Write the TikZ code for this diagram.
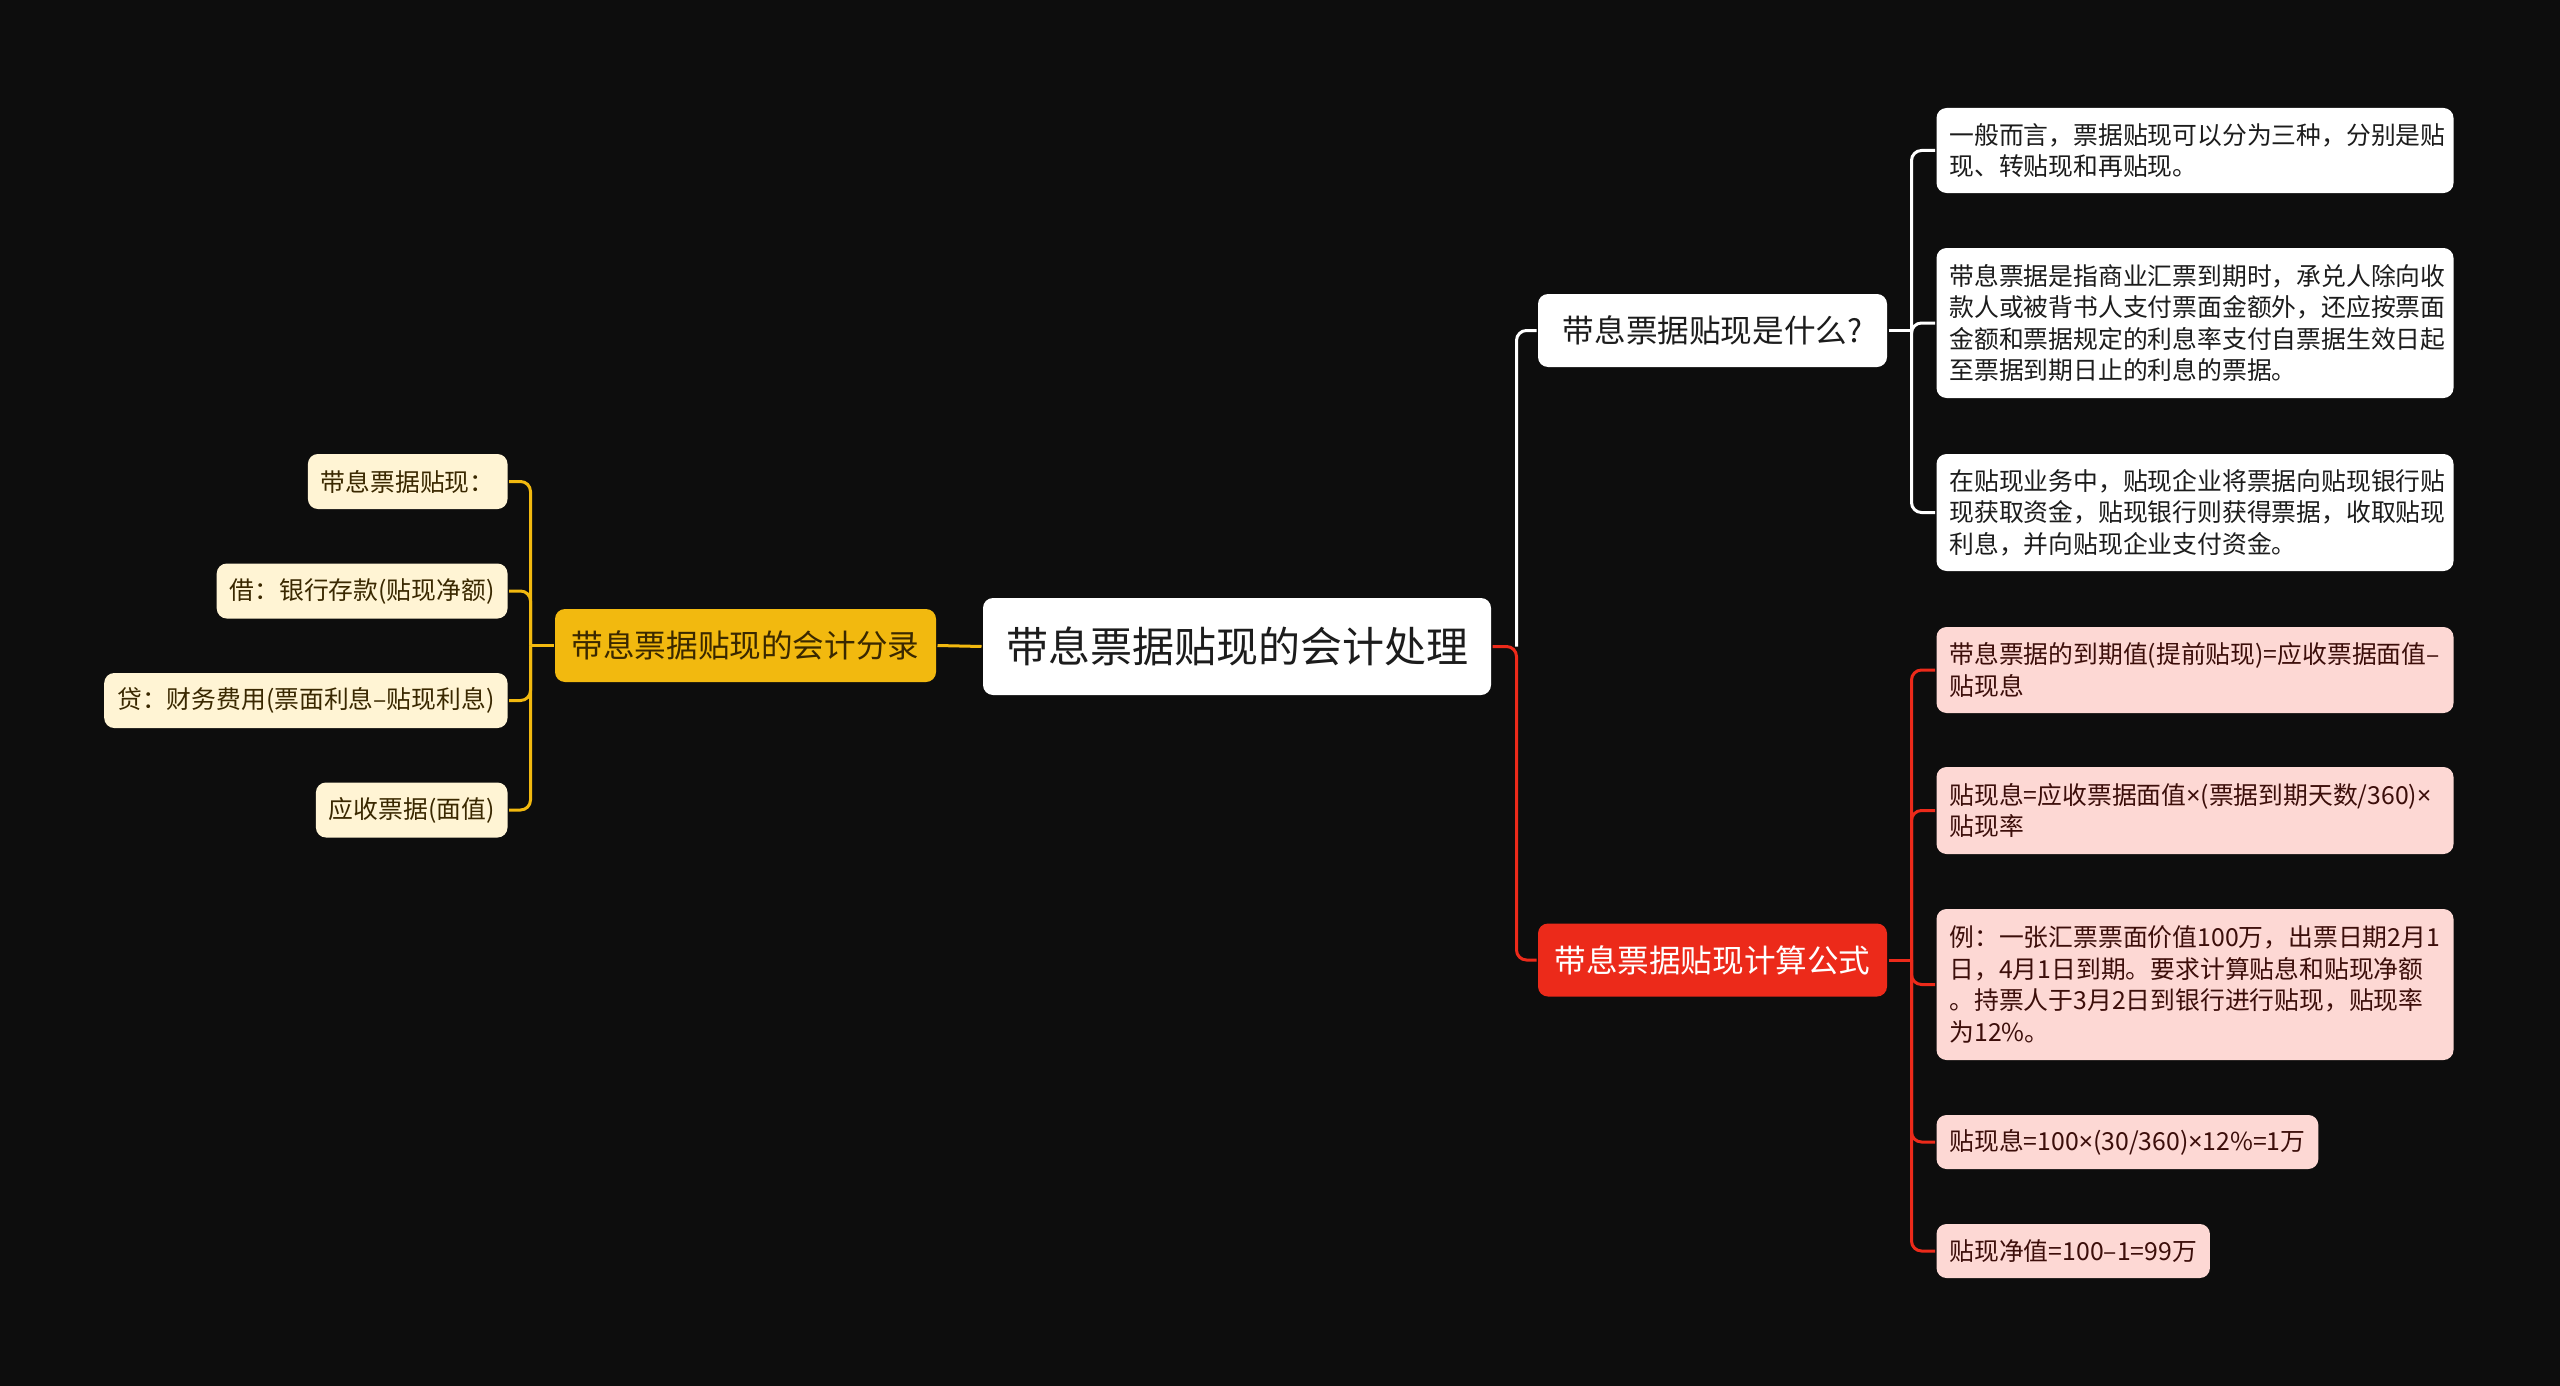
\documentclass[tikz,border=0pt]{standalone}
\usepackage{fontspec}
\setmainfont{Noto Sans CJK SC}
\newfontfamily\latinfont{Noto Sans}
\usetikzlibrary{positioning}
\definecolor{sfondo}{RGB}{13,13,13}
\definecolor{giallo}{RGB}{242,185,15}
\definecolor{crema}{RGB}{255,244,212}
\definecolor{rosso}{RGB}{236,42,26}
\definecolor{rosa}{RGB}{253,216,212}
\definecolor{inkdark}{RGB}{28,28,28}
\definecolor{inkbrown}{RGB}{58,40,0}
\definecolor{inkred}{RGB}{60,14,10}
\newcommand\rootfont{\fontsize{21}{26}\selectfont}
\newcommand\branchfont{\fontsize{15.8}{19}\selectfont}
\newcommand\leaffont{\fontsize{12.4}{15.7}\selectfont}
\newcommand\per{{\latinfont ×}}

\begin{document}
\begin{tikzpicture}[x=0.5pt, y=-0.5pt, line width=1.5pt,
  radice/.style={fill=white, rounded corners=5pt, text=inkdark, minimum width=254pt, minimum height=48.5pt, inner sep=0pt, font=\rootfont},
  ramo/.style={rounded corners=5pt, minimum height=36.5pt, inner sep=0pt, font=\branchfont},
  foglia/.style={rounded corners=5pt, align=left, inner xsep=6.5pt, inner ysep=0pt, font=\leaffont},
  fogliaw/.style={foglia, fill=white, text=inkdark, anchor=west, text width=245.5pt},
  fogliar/.style={foglia, fill=rosa, text=inkred, anchor=west},
  fogliay/.style={foglia, fill=crema, text=inkbrown, anchor=east, minimum height=27.5pt},
  filo/.style={line width=1.5pt, rounded corners=5pt}]
\fill[sfondo] (0,0) rectangle (2560,1386);

% nodo centrale e rami principali
\node[radice] (root) at (1237,646.5) {带息票据贴现的会计处理};
\node[ramo, fill=giallo, text=inkbrown, minimum width=190.5pt] (fen) at (745.5,645.5) {带息票据贴现的会计分录};
\node[ramo, fill=white, text=inkdark, minimum width=174.5pt] (cosa) at (1712.5,330.5) {带息票据贴现是什么?};
\node[ramo, fill=rosso, text=white, minimum width=174.5pt] (calc) at (1712.5,960) {带息票据贴现计算公式};

% foglie a sinistra
\node[fogliay] (l1) at (509,481.5) {带息票据贴现：};
\node[fogliay] (l2) at (509,591) {借：银行存款(贴现净额)};
\node[fogliay] (l3) at (509,700.5) {贷：财务费用(票面利息–贴现利息)};
\node[fogliay] (l4) at (509,810) {应收票据(面值)};

% foglie a destra, in alto
\node[fogliaw, minimum height=42.5pt] (w1) at (1935,150.5) {一般而言，票据贴现可以分为三种，分别是贴\\现、转贴现和再贴现。};
\node[fogliaw, minimum height=75pt] (w2) at (1935,323) {带息票据是指商业汇票到期时，承兑人除向收\\款人或被背书人支付票面金额外，还应按票面\\金额和票据规定的利息率支付自票据生效日起\\至票据到期日止的利息的票据。};
\node[fogliaw, minimum height=58.5pt] (w3) at (1935,512.5) {在贴现业务中，贴现企业将票据向贴现银行贴\\现获取资金，贴现银行则获得票据，收取贴现\\利息，并向贴现企业支付资金。};

% foglie a destra, in basso
\node[fogliar, text width=245.5pt, minimum height=43pt] (r1) at (1935,670) {带息票据的到期值(提前贴现)=应收票据面值–\\贴现息};
\node[fogliar, text width=245.5pt, minimum height=43.5pt] (r2) at (1935,810.5) {贴现息=应收票据面值\per(票据到期天数/360)\per\\贴现率};
\node[fogliar, text width=245.5pt, minimum height=75.5pt] (r3) at (1935,984.5) {例：一张汇票票面价值100万，出票日期2月1\\日，4月1日到期。要求计算贴息和贴现净额\\。持票人于3月2日到银行进行贴现，贴现率\\为12\%。};
\node[fogliar, minimum height=27pt] (r4) at (1935,1142) {贴现息=100\per(30/360)\per12\%=1万};
\node[fogliar, minimum height=27pt] (r5) at (1935,1251) {贴现净值=100–1=99万};

% collegamenti
\draw[filo, giallo] (root.west) -- (fen.east);
\draw[filo, giallo] (fen.west) -- ++(-23,0) coordinate (jl);
\foreach \n in {l1,l2,l3,l4}
  \draw[filo, giallo] (jl) |- (\n.east);
\draw[filo, rosso] (root.east) -- ++(24,0) coordinate (jr) |- (calc.west);
\draw[filo, white] (jr) |- (cosa.west);
\draw[filo, white] (cosa.east) -- ++(23,0) coordinate (jw);
\foreach \n in {w1,w2,w3}
  \draw[filo, white] (jw) |- (\n.west);
\draw[filo, rosso] (calc.east) -- ++(23,0) coordinate (jc);
\foreach \n in {r1,r2,r3,r4,r5}
  \draw[filo, rosso] (jc) |- (\n.west);
\end{tikzpicture}
\end{document}
